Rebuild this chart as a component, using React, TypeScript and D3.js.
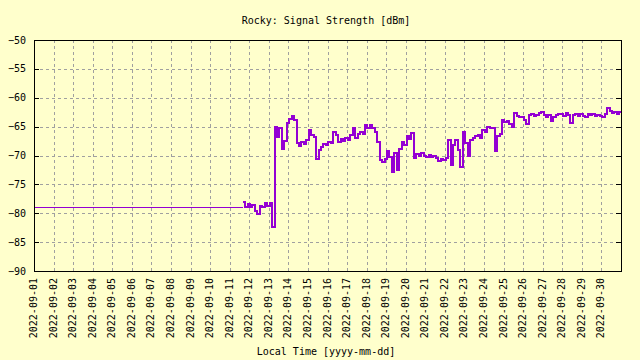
import React from "react";
import * as d3 from "d3";

const chartTitle = "Rocky: Signal Strength [dBm]";
const xAxisTitle = "Local Time [yyyy-mm-dd]";
const yTicks = [-90, -85, -80, -75, -70, -65, -60, -55, -50];
const domainStart = new Date(2022, 8, 1, 0, 0);
const domainEnd = new Date(2022, 9, 1, 0, 0);
const flatStart = new Date(2022, 8, 1, 0, 0);
const flatValue = -79;
const noisyStart = new Date(2022, 8, 11, 16, 0);
const stepHours = 3;
const values = [
  -78.0, -78.9, -78.4, -79.0, -78.6, -79.6, -80.2, -78.8, -79.0, -78.3,
  -78.7, -78.2, -82.3, -65.0, -66.8, -65.2, -68.8, -67.5, -64.4, -63.6,
  -63.1, -63.8, -67.9, -68.3, -67.6, -68.0, -67.4, -65.6, -66.4, -66.8,
  -70.6, -69.0, -68.5, -68.0, -68.2, -67.6, -67.8, -65.9, -66.5, -67.6,
  -67.2, -67.5, -67.0, -67.3, -66.4, -65.3, -67.0, -66.2, -65.9, -66.3,
  -64.7, -65.3, -64.8, -65.2, -66.0, -67.6, -70.8, -71.1, -70.6, -69.3,
  -70.2, -72.8, -69.5, -72.5, -68.8, -67.6, -68.2, -66.7, -67.2, -66.1,
  -70.5, -69.8, -70.0, -69.6, -70.0, -70.3, -69.9, -70.2, -70.0, -70.5,
  -71.0, -70.6, -70.8, -70.4, -67.3, -71.6, -68.2, -67.3, -69.0, -72.0,
  -65.9, -67.9, -70.0, -67.3, -67.0, -66.7, -66.5, -66.9, -65.6, -66.0,
  -65.0, -65.3, -65.3, -69.3, -66.7, -66.2, -63.9, -64.2, -64.1, -64.5,
  -65.0, -62.7, -63.1, -63.4, -63.3, -63.9, -64.6, -63.0, -62.8, -63.2,
  -63.0, -62.6, -62.4, -63.0, -63.3, -63.0, -64.1, -63.4, -63.0, -62.9,
  -62.8, -63.2, -62.7, -63.0, -64.4, -63.0, -62.9, -63.2, -62.9, -63.1,
  -63.3, -62.8, -63.0, -62.9, -63.2, -63.0, -63.1, -63.4, -62.9, -61.8,
  -62.3, -62.6, -62.4, -62.9, -62.5,
];

const W = 640;
const H = 360;
const left = 34;
const right = 621;
const top = 40;
const bottom = 271;
const font = "'DejaVu Sans Mono', monospace";
const bg = "#ffffcc";
const lineColor = "#9400d3";

export default function App() {
  const x = d3.scaleTime().domain([domainStart, domainEnd]).range([left, right]);
  const y = d3.scaleLinear().domain([-90, -50]).range([bottom, top]);

  const flatPts: [Date, number][] = [
    [flatStart, flatValue],
    [noisyStart, flatValue],
  ];
  const pts: [Date, number][] = values.map((v, i) => [
    d3.timeHour.offset(noisyStart, i * stepHours),
    v,
  ]);
  pts.push([domainEnd, values[values.length - 1]]);

  const line = d3
    .line<[Date, number]>()
    .x((d) => x(d[0]))
    .y((d) => y(d[1]))
    .curve(d3.curveStepAfter);

  const days = d3.timeDay.range(domainStart, domainEnd);
  const fmt = d3.timeFormat("%Y-%m-%d");
  const px = (v: number) => Math.round(v) + 0.5;

  return (
    <svg
      width={W}
      height={H}
      style={{ position: "fixed", left: 0, top: 0, background: bg }}
      fontFamily={font}
      fontSize={10}
    >
      <rect x={0} y={0} width={W} height={H} fill={bg} />
      <text x={326} y={24} textAnchor="middle" fill="#000">
        {chartTitle}
      </text>
      {/* grid */}
      <g stroke="#a0a0a0" strokeWidth={1} strokeDasharray="3,3" shapeRendering="crispEdges">
        {days.slice(1).map((d, i) => (
          <line key={"gx" + i} x1={px(x(d))} x2={px(x(d))} y1={top} y2={bottom} />
        ))}
        {yTicks.slice(1, -1).map((t) => (
          <line key={"gy" + t} x1={left} x2={right} y1={px(y(t))} y2={px(y(t))} />
        ))}
      </g>
      {/* data */}
      <path
        d={line(flatPts) || ""}
        fill="none"
        stroke={lineColor}
        strokeWidth={1}
        shapeRendering="crispEdges"
      />
      <path
        d={line(pts) || ""}
        fill="none"
        stroke={lineColor}
        strokeWidth={2}
        shapeRendering="crispEdges"
      />
      {/* frame */}
      <rect
        x={px(left)}
        y={px(top)}
        width={Math.round(right) - Math.round(left)}
        height={Math.round(bottom) - Math.round(top)}
        fill="none"
        stroke="#000"
        strokeWidth={1}
        shapeRendering="crispEdges"
      />
      {/* y ticks and labels */}
      <g stroke="#000" shapeRendering="crispEdges">
        {yTicks.map((t) => (
          <g key={"yt" + t}>
            <line x1={left} x2={left + 5} y1={px(y(t))} y2={px(y(t))} />
            <line x1={right - 5} x2={right} y1={px(y(t))} y2={px(y(t))} />
          </g>
        ))}
      </g>
      {yTicks.map((t) => (
        <text
          key={"yl" + t}
          x={26}
          y={y(t)}
          dy="0.35em"
          textAnchor="end"
          fill="#000"
        >
          {String(t).replace("-", "\u2212")}
        </text>
      ))}
      {/* x labels */}
      {days.map((d, i) => (
        <text
          key={"xl" + i}
          transform={`translate(${x(d) + 3},278) rotate(-90)`}
          textAnchor="end"
          fill="#000"
        >
          {fmt(d)}
        </text>
      ))}
      <text x={326} y={355} textAnchor="middle" fill="#000">
        {xAxisTitle}
      </text>
    </svg>
  );
}
